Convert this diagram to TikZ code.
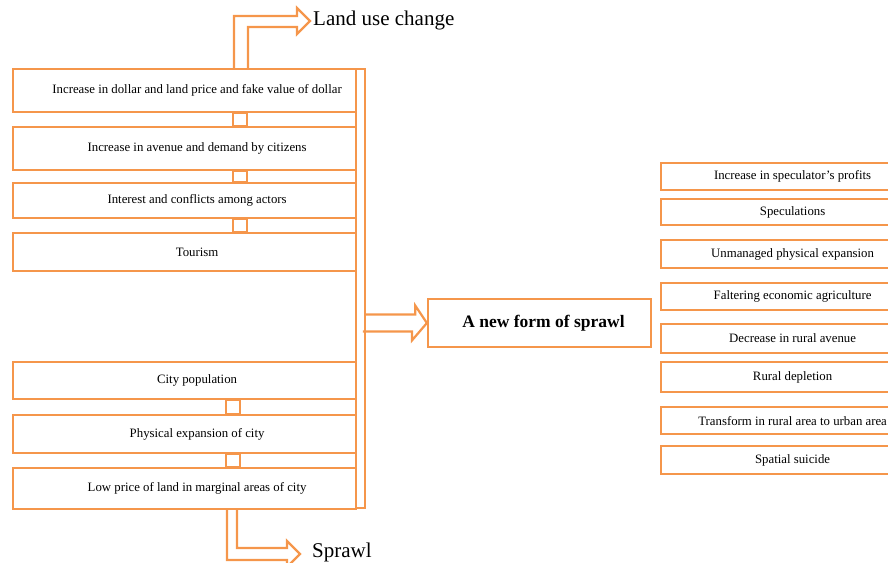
\documentclass[tikz,border=0pt]{standalone}
\usepackage{fontspec}
\setmainfont{Liberation Serif}
\definecolor{sprawlorange}{RGB}{245,150,75}
\tikzset{frame/.style={draw=sprawlorange,line width=2.2pt}}
\tikzset{cause/.style={frame,rectangle,anchor=north west,inner sep=0pt,
                       minimum width=343pt,font=\fontsize{12.8}{15}\selectfont}}
\tikzset{effect/.style={frame,rectangle,anchor=north west,inner sep=0pt,
                        minimum width=263pt,font=\fontsize{12.8}{15}\selectfont}}
\tikzset{result/.style={frame,rectangle,inner sep=0pt,minimum width=223pt,
                        minimum height=48pt,font=\bfseries\fontsize{17.5}{20}\selectfont}}
\tikzset{outcome/.style={anchor=base west,inner sep=0pt,font=\fontsize{21}{24}\selectfont}}

\begin{document}
\begin{tikzpicture}[x=1pt,y=-1pt]
    \useasboundingbox (0,0) rectangle (888,562);
    \clip (0,0) rectangle (888,562);
    % causes
    \foreach \t/\top/\h [count=\i] in {Increase in dollar and land price and fake value of dollar/68/43,
        Increase in avenue and demand by citizens/126/43,Interest and conflicts among actors/182/35,
        Tourism/232/38,City population/361/37,Physical expansion of city/414/38,
        Low price of land in marginal areas of city/467/41}{%
          \node[cause,minimum height=\h pt] (c\i) at (12,\top) {\hspace*{25pt}\t};
        }
    \node[frame,rectangle,anchor=north west,inner sep=0pt,minimum width=9pt,
          minimum height=439pt] (bar) at (355,68) {};
    % links between the boxes
    \coordinate (uA) at (233,0);
    \coordinate (uB) at (247,0);
    \coordinate (lA) at (226,0);
    \coordinate (lB) at (240,0);
    \foreach \a/\b in {1/2,2/3,3/4}{%
          \draw[frame] (c\a.south -| uA) rectangle (c\b.north -| uB);
        }
    \foreach \a/\b in {5/6,6/7}{%
          \draw[frame] (c\a.south -| lA) rectangle (c\b.north -| lB);
        }
    % outcomes
    \node[outcome] (landuse) at (313,25) {Land use change};
    \node[outcome] (sprawl) at (312,557) {Sprawl};
    \coordinate (upL) at (234,0);
    \coordinate (upR) at (248,0);
    \draw[frame] (c1.north -| upL) -- (234,16) -- (297,16) -- (297,8) -- (310,21)
        -- (297,34) -- (297,27) -- (248,27) -- (c1.north -| upR);
    \coordinate (dnL) at (227,0);
    \coordinate (dnR) at (237,0);
    \draw[frame] (c7.south -| dnL) -- (227,560) -- (287,560) -- (287,567) -- (300,554)
        -- (287,541) -- (287,548) -- (237,548) -- (c7.south -| dnR);
    % a new form
    \node[result] (form) at (539.5,323) {\hspace*{8pt}A new form of sprawl};
    \draw[frame] (bar.east |- form.west) ++(0,-8.5) -- ++(49,0) -- ++(0,-9) -- (form.west)
        -- ++(-15,17.5) -- ++(0,-9) -- ++(-49,0);
    % effects
    \foreach \t/\top/\h [count=\i] in {Increase in speculator's profits/162/27,Speculations/198/26,
        Unmanaged physical expansion/239/28,Faltering economic agriculture/282/27,
        Decrease in rural avenue/323/29,Rural depletion/361/30,
        Transform in rural area to urban area/406/27,Spatial suicide/445/28}{%
          \node[effect,minimum height=\h pt] (e\i) at (660,\top) {\t};
        }
\end{tikzpicture}
\end{document}
